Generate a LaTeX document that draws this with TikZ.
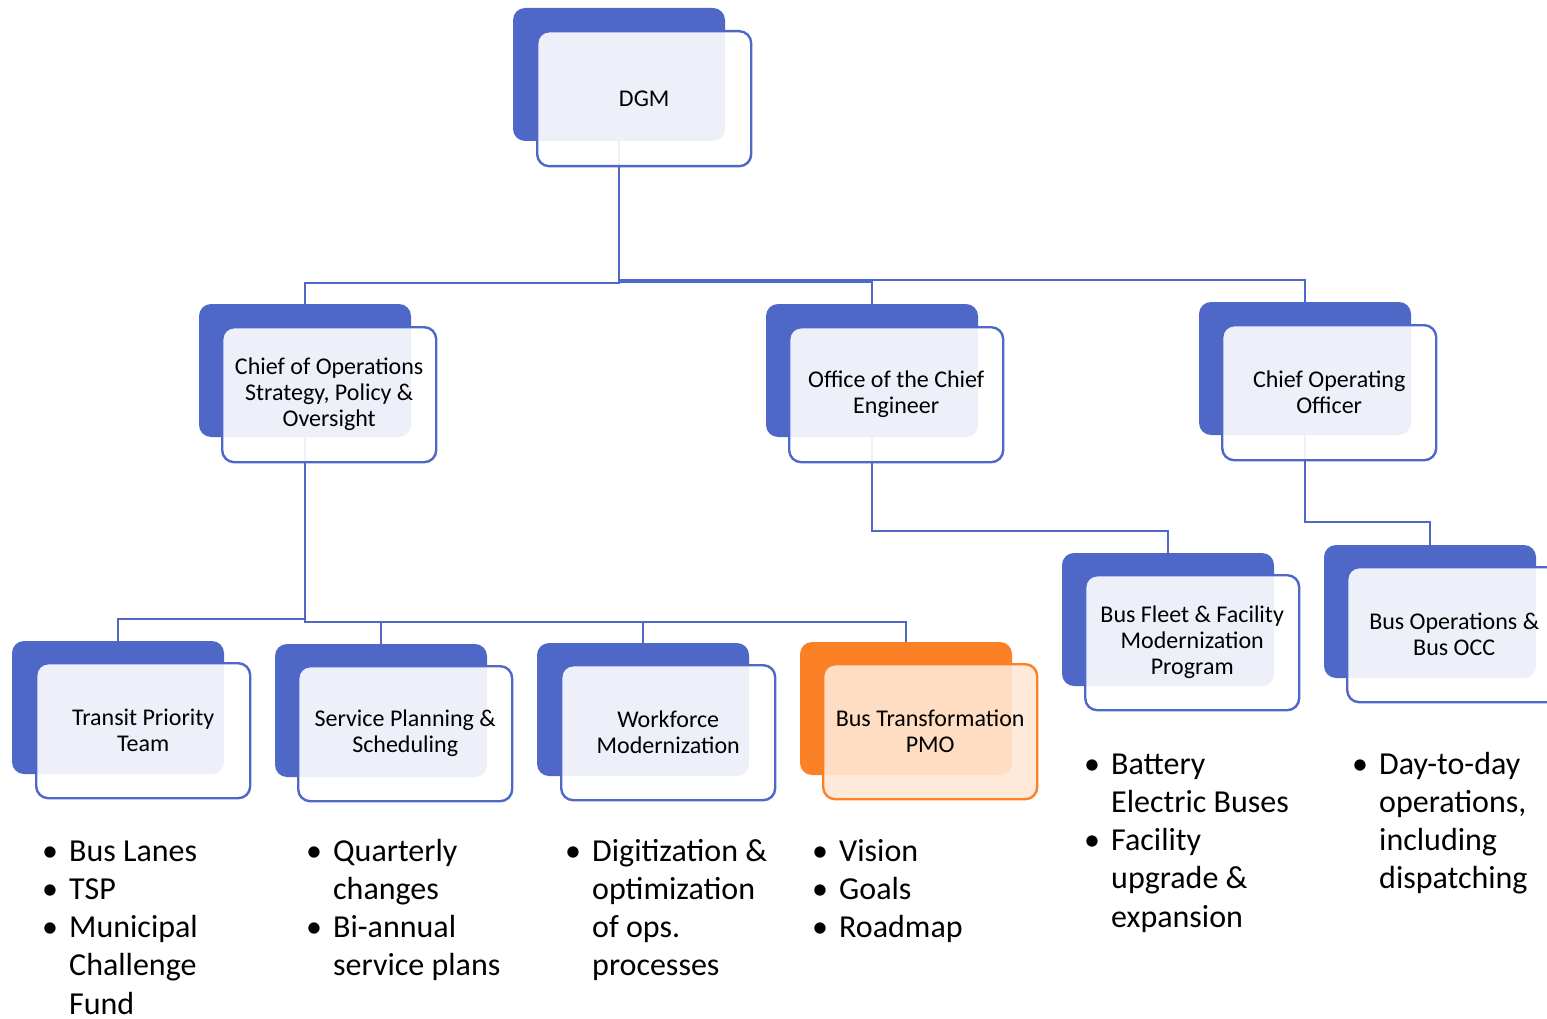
\documentclass[tikz,border=0pt]{standalone}
\usepackage{fontspec}
\setmainfont{Carlito}
\definecolor{orgblue}{RGB}{79,104,199}
\definecolor{orgorange}{RGB}{252,129,38}
\definecolor{orgpeach}{RGB}{255,231,213}
\newcommand\orgboxfont{\fontsize{24}{26}\selectfont}
\newcommand\orgbulfont{\fontsize{32}{38.3}\selectfont}
\tikzset{
  backbox/.style={draw=none, fill=#1, rounded corners=12pt, minimum width=212pt,
    minimum height=133pt, anchor=north west, inner sep=0pt, outer sep=0pt},
  frontbox/.style={draw=#1, line width=2.4pt, rounded corners=12pt, minimum width=214pt,
    minimum height=135pt, anchor=north west, inner sep=0pt, align=center,
    font=\orgboxfont, fill opacity=0.9, text opacity=1},
  conn/.style={draw=orgblue, line width=2.8pt},
  bul/.style={font=\orgbulfont, anchor=base, inner sep=0pt},
  itemtext/.style={font=\orgbulfont, anchor=base west, inner sep=0pt, align=left},
}
\begin{document}
\begin{tikzpicture}[x=1pt, y=-1pt]
\useasboundingbox (0,0) rectangle (1547,1019);
% back boxes
\node[backbox=orgblue] (dgm-b) at (513,8) {};
\node[backbox=orgblue] (cospo-b) at (199,304) {};
\node[backbox=orgblue] (oce-b) at (766,304) {};
\node[backbox=orgblue] (coo-b) at (1199,302) {};
\node[backbox=orgblue] (bffmp-b) at (1062,553) {};
\node[backbox=orgblue] (bobocc-b) at (1324,545) {};
\node[backbox=orgblue] (tpt-b) at (12,641) {};
\node[backbox=orgblue] (sps-b) at (275,644) {};
\node[backbox=orgblue] (wm-b) at (537,643) {};
\node[backbox=orgorange] (btpmo-b) at (800,642) {};
% connector levels
\coordinate (l1a) at (0,283);
\coordinate (l1b) at (0,282);
\coordinate (l1c) at (0,280);
\coordinate (l2a) at (0,619);
\coordinate (l2b) at (0,622);
\coordinate (l3a) at (0,531);
\coordinate (l3b) at (0,522);
% connectors
\draw[conn] (dgm-b.south) -- (dgm-b.south |- l1a) -| (cospo-b.north);
\draw[conn] (dgm-b.south) -- (dgm-b.south |- l1b) -| (oce-b.north);
\draw[conn] (dgm-b.south) -- (dgm-b.south |- l1c) -| (coo-b.north);
\draw[conn] (cospo-b.south) -- (cospo-b.south |- l2a) -| (tpt-b.north);
\draw[conn] (cospo-b.south) -- (cospo-b.south |- l2b) -| (sps-b.north);
\draw[conn] (cospo-b.south) -- (cospo-b.south |- l2b) -| (wm-b.north);
\draw[conn] (cospo-b.south) -- (cospo-b.south |- l2b) -| (btpmo-b.north);
\draw[conn] (oce-b.south) -- (oce-b.south |- l3a) -| (bffmp-b.north);
\draw[conn] (coo-b.south) -- (coo-b.south |- l3b) -| (bobocc-b.north);
% front boxes
\node[frontbox=orgblue, fill=white] (dgm) at (536,30) {DGM};
\node[frontbox=orgblue, fill=white] (cospo) at (221,326) {Chief of Operations\\Strategy, Policy \&\\Oversight};
\node[frontbox=orgblue, fill=white] (oce) at (788,326) {Office of the Chief\\Engineer};
\node[frontbox=orgblue, fill=white] (coo) at (1221,324) {Chief Operating\\Officer};
\node[frontbox=orgblue, fill=white] (bffmp) at (1084,574) {Bus Fleet \& Facility\\Modernization\\Program};
\node[frontbox=orgblue, fill=white] (bobocc) at (1346,566) {Bus Operations \&\\Bus OCC};
\node[frontbox=orgblue, fill=white] (tpt) at (35,662) {Transit Priority\\Team};
\node[frontbox=orgblue, fill=white] (sps) at (297,665) {Service Planning \&\\Scheduling};
\node[frontbox=orgblue, fill=white] (wm) at (560,664) {Workforce\\Modernization};
\node[frontbox=orgorange, fill=orgpeach] (btpmo) at (822,663) {Bus Transformation\\PMO};
% bullet lists (anchor = baseline of the last line)
\node[bul] (b1) at (50,861) {•};
\node[itemtext] (t1) at (69,861) {Bus Lanes};
\node[bul] (b2) at (50,899.3) {•};
\node[itemtext] (t2) at (69,899.3) {TSP};
\node[bul] (b3) at (50,937.6) {•};
\node[itemtext] (t3) at (69,1014.2) {Municipal\\Challenge\\Fund};
\node[bul] (b4) at (314,861) {•};
\node[itemtext] (t4) at (333,899.3) {Quarterly\\changes};
\node[bul] (b5) at (314,937.6) {•};
\node[itemtext] (t5) at (333,975.9) {Bi-annual\\service plans};
\node[bul] (b6) at (573,861) {•};
\node[itemtext] (t6) at (592,975.9) {Digitization \&\\optimization\\of ops.\\processes};
\node[bul] (b7) at (820,861) {•};
\node[itemtext] (t7) at (839,861) {Vision};
\node[bul] (b8) at (820,899.3) {•};
\node[itemtext] (t8) at (839,899.3) {Goals};
\node[bul] (b9) at (820,937.6) {•};
\node[itemtext] (t9) at (839,937.6) {Roadmap};
\node[bul] (b10) at (1092,774) {•};
\node[itemtext] (t10) at (1111,812.3) {Battery\\Electric Buses};
\node[bul] (b11) at (1092,850.6) {•};
\node[itemtext] (t11) at (1111,927.2) {Facility\\upgrade \&\\expansion};
\node[bul] (b12) at (1360,774) {•};
\node[itemtext] (t12) at (1379,888.9) {Day-to-day\\operations,\\including\\dispatching};
\end{tikzpicture}
\end{document}
